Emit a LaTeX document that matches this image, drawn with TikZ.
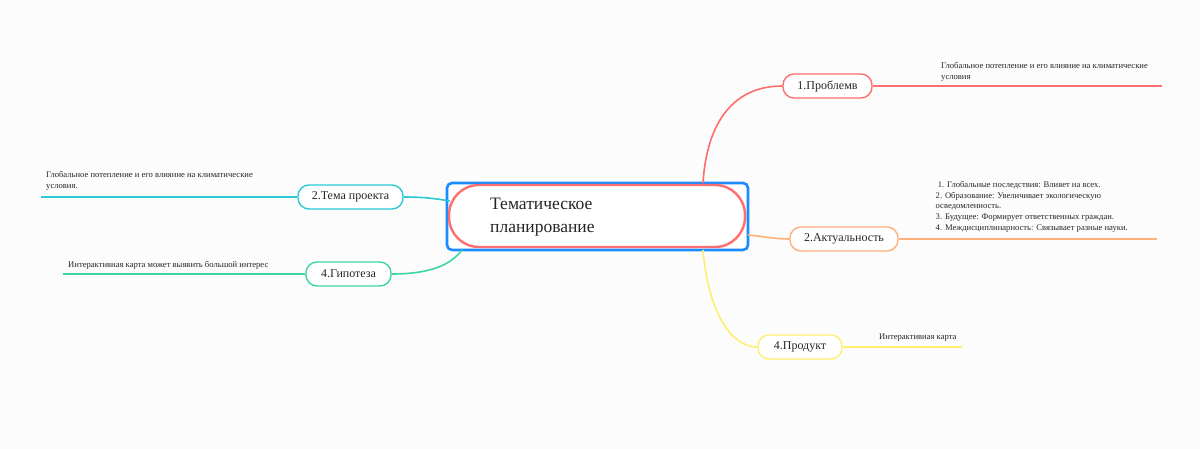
\documentclass[tikz,border=0pt]{standalone}
\usepackage{fontspec}
\setmainfont{Liberation Serif}
\definecolor{bgc}{HTML}{FCFCFC}
\definecolor{cred}{HTML}{FF6E6E}
\definecolor{cora}{HTML}{FFB07A}
\definecolor{cyel}{HTML}{FFEE70}
\definecolor{ccya}{HTML}{2BCAD6}
\definecolor{cgre}{HTML}{3DD6A0}
\definecolor{cblu}{HTML}{1A8CFF}
\definecolor{txt}{HTML}{262626}
\begin{document}
\begin{tikzpicture}[x=1pt,y=-1pt,
  topic/.style={draw, line width=1.4pt, rounded corners=11pt, fill=white, minimum height=24pt, inner xsep=0pt, text=txt, font=\fontsize{12}{13}\selectfont},
  leaftext/.style={text=txt, font=\fontsize{8.6}{10.7}\selectfont, align=left, inner sep=0pt, anchor=north west},
  conn/.style={line width=1.6pt},
  leaf/.style={line width=1.1pt}]
\fill[bgc] (0,0) rectangle (1200,449);
\useasboundingbox (0,0) rectangle (1200,449);

% central
\draw[cblu, line width=2.6pt, rounded corners=5pt, fill=white] (447,183) rectangle (748,250);
\node[draw=cred, line width=2.4pt, rounded corners=30pt, minimum width=296pt, minimum height=62pt, fill=white] (ctr) at (597,216) {};
\node[text=txt, font=\fontsize{17.5}{23}\selectfont, align=left, anchor=west, inner sep=0pt] (ctxt) at (490,217) {Тематическое\\планирование};

\coordinate (cT) at (703,183);
\coordinate (cB) at (703,250);
\coordinate (cR) at (748,235);
\coordinate (cL) at (450,201);
\coordinate (cBL) at (462,250);

% topics
\node[topic, draw=cred, minimum width=89pt] (p1) at (827.5,86) {1.Проблемв};
\node[topic, draw=cora, minimum width=108pt] (p2) at (844,239) {2.Актуальность};
\node[topic, draw=cyel, minimum width=84pt] (p3) at (800,347) {4.Продукт};
\node[topic, draw=ccya, minimum width=105pt] (p4) at (350.5,197) {2.Тема проекта};
\node[topic, draw=cgre, minimum width=85pt] (p5) at (348.5,274) {4.Гипотеза};

% connectors
\draw[conn, cred] (cT) .. controls (707,120) and (735,86) .. (p1.west);
\draw[conn, cora] (cR) .. controls (768,237) and (775,239) .. (p2.west);
\draw[conn, cyel] (cB) .. controls (708,310) and (730,347) .. (p3.west);
\draw[conn, ccya] (p4.east) .. controls (425,197) and (438,199) .. (cL);
\draw[conn, cgre] (p5.east) .. controls (428,274) and (450,266) .. (cBL);

% leaf lines
\coordinate (e1) at (1162,86);
\coordinate (e2) at (1157,239);
\coordinate (e3) at (962,347);
\coordinate (e4) at (41,197);
\coordinate (e5) at (63,274);
\draw[leaf, cred] (p1.east) -- (e1);
\draw[leaf, cora] (p2.east) -- (e2);
\draw[leaf, cyel] (p3.east) -- (e3);
\draw[leaf, ccya] (p4.west) -- (e4);
\draw[leaf, cgre] (p5.west) -- (e5);

% leaf texts
\node[leaftext] (t1) at (941,62) {Глобальное потепление и его влияние на климатические\\условия};
\node[leaftext] (t2) at (935.5,181) {\ 1. Глобальные последствия: Влияет на всех.\\2. Образование: Увеличивает экологическую\\осведомленность.\\3. Будущее: Формирует ответственных граждан.\\4. Междисциплинарность: Связывает разные науки.};
\node[leaftext] (t3) at (879,334) {Интерактивная карта};
\node[leaftext] (t4) at (46,171) {Глобальное потепление и его влияние на климатические\\условия.};
\node[leaftext] (t5) at (68,261) {Интерактивная карта может выявить большой интерес};
\end{tikzpicture}
\end{document}
